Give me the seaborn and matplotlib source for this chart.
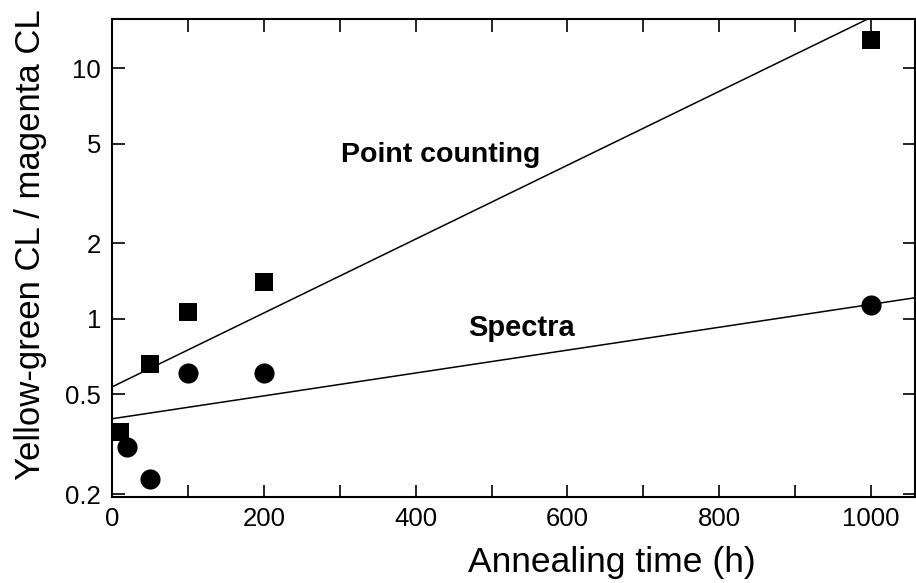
import numpy as np
import pandas as pd
import matplotlib
matplotlib.use("Agg")
import matplotlib.pyplot as plt
from matplotlib.ticker import FixedLocator, FixedFormatter, NullLocator
import seaborn as sns

# Data
square_time = [10, 50, 100, 200, 1000]
square_ratio = [0.355, 0.66, 1.07, 1.40, 13.0]
circle_time = [20, 50, 100, 200, 1000]
circle_ratio = [0.31, 0.23, 0.61, 0.61, 1.14]

# fitted lines: log10(ratio) = a + b * t
fit_names = ["Point counting", "Spectra"]
fit_intercepts = [-0.271, -0.398]
fit_slopes = [0.001473, 0.000456]

ytick_values = [0.2, 0.5, 1, 2, 5, 10]
ytick_labels = ["0.2", "0.5", "1", "2", "5", "10"]

df = pd.DataFrame({
    "time": square_time + circle_time,
    "ratio": square_ratio + circle_ratio,
    "kind": ["Point counting"] * len(square_time) + ["Spectra"] * len(circle_time),
})

sns.set_style("ticks", {"axes.edgecolor": "black", "text.color": "black",
                        "xtick.color": "black", "ytick.color": "black",
                        "axes.labelcolor": "black"})
plt.rcParams["font.family"] = ["Liberation Sans", "DejaVu Sans"]

fig = plt.figure(figsize=(9.16, 5.83), dpi=100)
ax = fig.add_axes([0.1223, 0.1475, 0.8767, 0.82])

sns.scatterplot(data=df[df.kind == "Point counting"], x="time", y="ratio",
                marker="s", s=160, color="black", linewidth=0, ax=ax, legend=False)
sns.scatterplot(data=df[df.kind == "Spectra"], x="time", y="ratio",
                marker="o", s=210, color="black", linewidth=0, ax=ax, legend=False)

t = np.linspace(0, 1060, 200)
for a, b in zip(fit_intercepts, fit_slopes):
    sns.lineplot(x=t, y=10 ** (a + b * t), color="black", linewidth=1.1, ax=ax)

ax.set_yscale("log")
ax.set_xlim(0, 1058)
ax.set_ylim(0.195, 15.7)

ax.yaxis.set_major_locator(FixedLocator(ytick_values))
ax.yaxis.set_major_formatter(FixedFormatter(ytick_labels))
ax.yaxis.set_minor_locator(NullLocator())
ax.set_xticks(np.arange(0, 1001, 200))
ax.set_xticks(np.arange(100, 1001, 200), minor=True)

ax.tick_params(which="both", direction="in", top=True, right=True,
               length=9, width=1.2, labelsize=18.5, colors="black")
ax.tick_params(axis="y", pad=8)
ax.tick_params(axis="x", pad=7)
for sp in ax.spines.values():
    sp.set_linewidth(1.5)
    sp.set_color("black")

ax.text(433, 4.5, fit_names[0], fontsize=20.5, fontweight="bold", ha="center", va="center", color="black")
ax.text(540, 0.92, fit_names[1], fontsize=21, fontweight="bold", ha="center", va="center", color="black")

ax.set_xlabel("Annealing time (h)", fontsize=25.5, labelpad=11, color="black")
ax.set_ylabel("Yellow-green CL / magenta CL", fontsize=25, labelpad=13, color="black")
ax.xaxis.label.set_x(0.623)
ax.yaxis.label.set_y(0.527)

fig.savefig("out.png", dpi=100)
